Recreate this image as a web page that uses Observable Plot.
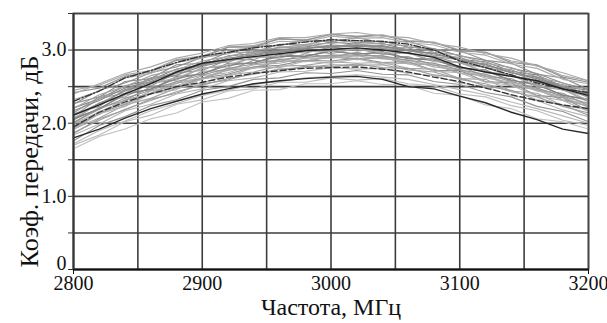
<!DOCTYPE html>
<html>
<head>
<meta charset="utf-8">
<script src="https://cdn.jsdelivr.net/npm/d3@7"></script>
<script src="https://cdn.jsdelivr.net/npm/@observablehq/plot@0.6"></script>
<style>
  html, body { margin: 0; padding: 0; background: #fff; }
</style>
</head>
<body>
<div id="chart"></div>
<script>
const freq = [2800,2820,2840,2860,2880,2900,2920,2940,2960,2980,3000,3020,3040,3060,3080,3100,3120,3140,3160,3180,3200];

const xGridTicks = [2800,2850,2900,2950,3000,3050,3100,3150,3200];
const xLabelTicks = [2800,2900,3000,3100,3200];
const yTicks = [0,0.5,1.0,1.5,2.0,2.5,3.0,3.5];
const yTickLabels = ["0","","1.0","","2.0","","3.0",""];
const xTitle = "Частота, МГц";
const yTitle = "Коэф. передачи, дБ";

// gray measurement curves
const g1  = [2.45,2.52,2.66,2.72,2.87,2.92,3.04,3.06,3.15,3.14,3.21,3.19,3.21,3.13,3.11,3.00,2.97,2.85,2.80,2.65,2.58];
const g2  = [2.26,2.45,2.55,2.69,2.77,2.90,2.95,3.05,3.06,3.14,3.11,3.17,3.10,3.12,3.01,2.99,2.86,2.82,2.67,2.62,2.46];
const g3  = [2.21,2.33,2.51,2.59,2.74,2.80,2.92,2.95,3.04,3.04,3.11,3.08,3.09,3.00,3.00,2.87,2.84,2.71,2.66,2.50,2.45];
const g4  = [2.10,2.34,2.41,2.61,2.65,2.82,2.83,2.96,2.97,3.04,3.03,3.06,3.02,3.00,2.91,2.87,2.76,2.70,2.57,2.51,2.35];
const g5  = [2.13,2.23,2.46,2.51,2.69,2.72,2.87,2.87,2.99,2.96,3.04,2.99,3.02,2.95,2.91,2.82,2.76,2.65,2.57,2.45,2.37];
const g6  = [2.04,2.28,2.36,2.55,2.59,2.76,2.77,2.91,2.89,3.00,2.95,3.02,2.94,2.96,2.84,2.83,2.69,2.66,2.50,2.46,2.29];
const g7  = [2.07,2.19,2.41,2.46,2.64,2.67,2.82,2.82,2.94,2.91,2.99,2.94,2.98,2.88,2.88,2.75,2.73,2.58,2.54,2.38,2.33];
const g8  = [2.01,2.21,2.31,2.50,2.54,2.71,2.72,2.86,2.84,2.95,2.90,2.97,2.89,2.91,2.79,2.78,2.64,2.61,2.45,2.41,2.24];
const g9  = [2.00,2.15,2.32,2.41,2.57,2.61,2.75,2.76,2.87,2.85,2.93,2.88,2.92,2.82,2.82,2.69,2.67,2.52,2.48,2.32,2.27];
const g10 = [1.93,2.14,2.26,2.41,2.49,2.62,2.67,2.77,2.79,2.86,2.85,2.89,2.83,2.84,2.72,2.72,2.57,2.55,2.38,2.35,2.17];
const g11 = [1.92,2.07,2.25,2.34,2.48,2.55,2.66,2.70,2.78,2.79,2.84,2.82,2.83,2.75,2.74,2.61,2.60,2.44,2.41,2.24,2.19];
const g12 = [1.86,2.06,2.18,2.33,2.41,2.54,2.59,2.69,2.71,2.78,2.77,2.81,2.76,2.75,2.66,2.62,2.51,2.45,2.32,2.25,2.11];
const g13 = [1.84,1.99,2.17,2.26,2.40,2.47,2.58,2.62,2.70,2.71,2.76,2.74,2.75,2.68,2.65,2.55,2.50,2.38,2.31,2.18,2.09];
const g14 = [1.76,1.97,2.09,2.24,2.32,2.45,2.50,2.60,2.62,2.69,2.68,2.72,2.67,2.66,2.57,2.53,2.42,2.36,2.23,2.16,2.02];
const g15 = [1.70,1.84,2.02,2.11,2.26,2.32,2.44,2.47,2.56,2.56,2.62,2.59,2.61,2.54,2.51,2.40,2.36,2.24,2.17,2.04,1.97];
const g16 = [1.65,1.82,1.92,2.06,2.14,2.29,2.34,2.45,2.46,2.54,2.54,2.58,2.53,2.52,2.41,2.38,2.25,2.20,2.06,2.02,1.92];
const g17 = [2.27,2.36,2.57,2.61,2.80,2.82,2.97,2.97,3.08,3.07,3.15,3.10,3.12,3.04,3.02,2.92,2.86,2.75,2.68,2.55,2.46];
const g18 = [2.32,2.44,2.62,2.68,2.83,2.89,3.00,3.03,3.12,3.11,3.19,3.16,3.17,3.10,3.07,2.97,2.93,2.81,2.75,2.60,2.54];
const g19 = [2.14,2.36,2.45,2.62,2.68,2.83,2.86,2.98,2.98,3.07,3.04,3.09,3.03,3.03,2.93,2.90,2.78,2.73,2.59,2.53,2.38];
const g20 = [2.05,2.20,2.39,2.47,2.61,2.68,2.79,2.83,2.91,2.92,2.98,2.95,2.96,2.89,2.86,2.76,2.71,2.59,2.52,2.39,2.31];
const g21 = [2.07,2.27,2.39,2.54,2.62,2.75,2.80,2.90,2.92,2.99,2.98,3.02,2.96,2.97,2.85,2.84,2.70,2.67,2.51,2.47,2.31];
const g22 = [1.99,2.12,2.31,2.40,2.55,2.60,2.73,2.75,2.85,2.84,2.91,2.87,2.90,2.81,2.80,2.68,2.65,2.51,2.46,2.31,2.24];
const g23 = [2.42,2.48,2.64,2.70,2.86,2.90,3.04,3.04,3.16,3.13,3.22,3.18,3.20,3.12,3.10,2.99,2.97,2.83,2.79,2.63,2.56];
const g24 = [1.91,2.13,2.23,2.40,2.46,2.61,2.64,2.76,2.76,2.85,2.82,2.88,2.81,2.82,2.71,2.69,2.56,2.52,2.37,2.31,2.16];
const h1  = [2.20,2.39,2.50,2.65,2.73,2.85,2.91,3.00,3.03,3.08,3.09,3.13,3.08,3.06,2.97,2.93,2.82,2.76,2.63,2.55,2.42];
const h2  = [2.11,2.27,2.44,2.56,2.66,2.78,2.85,2.93,2.97,3.02,3.05,3.06,3.05,2.99,2.95,2.86,2.80,2.69,2.61,2.48,2.40];
const h3  = [1.96,2.16,2.27,2.44,2.51,2.65,2.69,2.80,2.82,2.89,2.89,2.92,2.88,2.86,2.77,2.73,2.62,2.56,2.44,2.36,2.22];
const h4  = [2.40,2.54,2.68,2.77,2.89,2.96,3.06,3.09,3.17,3.17,3.22,3.24,3.19,3.17,3.09,3.04,2.95,2.89,2.78,2.69,2.58];
const h5  = [1.87,2.04,2.19,2.31,2.43,2.52,2.61,2.67,2.74,2.76,2.80,2.79,2.80,2.73,2.70,2.60,2.54,2.43,2.36,2.23,2.14];
const h6  = [2.17,2.31,2.48,2.57,2.71,2.79,2.89,2.93,3.01,3.02,3.07,3.05,3.06,2.99,2.96,2.86,2.81,2.69,2.63,2.49,2.41];
const h7  = [1.72,1.90,2.03,2.17,2.27,2.38,2.45,2.53,2.57,2.62,2.64,2.66,2.63,2.60,2.53,2.46,2.39,2.29,2.20,2.10,2.00];
const h8  = [2.01,2.19,2.34,2.45,2.57,2.66,2.75,2.81,2.87,2.90,2.93,2.93,2.92,2.86,2.82,2.73,2.67,2.57,2.48,2.37,2.27];

// highlighted dark curves
const dLow     = [1.80,1.92,2.07,2.20,2.30,2.40,2.47,2.54,2.58,2.61,2.63,2.64,2.60,2.50,2.47,2.37,2.28,2.15,2.05,1.92,1.86];
const dMid     = [2.11,2.25,2.40,2.54,2.70,2.82,2.87,2.91,2.95,2.99,3.01,3.03,3.00,2.96,2.90,2.77,2.70,2.64,2.58,2.47,2.38];
const dDashDot = [2.30,2.44,2.62,2.72,2.83,2.92,2.97,3.03,3.07,3.11,3.14,3.13,3.12,3.08,3.00,2.85,2.76,2.66,2.55,2.47,2.42];
const dDash    = [1.95,2.15,2.29,2.40,2.50,2.56,2.63,2.68,2.72,2.75,2.76,2.77,2.74,2.70,2.63,2.57,2.48,2.39,2.31,2.25,2.20];

const graySeries = [
  ["g1", g1, "#a6a6a6"], ["g2", g2, "#949494"], ["g3", g3, "#828282"], ["g4", g4, "#9e9e9e"],
  ["g5", g5, "#8f8f8f"], ["g6", g6, "#a4a4a4"], ["g7", g7, "#848484"], ["g8", g8, "#9a9a9a"],
  ["g9", g9, "#aeaeae"], ["g10", g10, "#909090"], ["g11", g11, "#a6a6a6"], ["g12", g12, "#9c9c9c"],
  ["g13", g13, "#b4b4b4"], ["g14", g14, "#949494"], ["g15", g15, "#bcbcbc"], ["g16", g16, "#c2c2c2"],
  ["g17", g17, "#8c8c8c"], ["g18", g18, "#acacac"], ["g19", g19, "#989898"], ["g20", g20, "#808080"],
  ["g21", g21, "#aaaaaa"], ["g22", g22, "#a0a0a0"], ["g23", g23, "#929292"], ["g24", g24, "#b0b0b0"],
  ["h1", h1, "#a2a2a2"], ["h2", h2, "#8a8a8a"], ["h3", h3, "#acacac"], ["h4", h4, "#aaaaaa"],
  ["h5", h5, "#9e9e9e"], ["h6", h6, "#888888"], ["h7", h7, "#bababa"], ["h8", h8, "#969696"]
];

const grayRows = graySeries.flatMap(([name, vals, color]) =>
  vals.map((v, i) => ({name, f: freq[i], v, color})));
const toRows = (vals) => vals.map((v, i) => ({f: freq[i], v}));

const serif = "'Liberation Serif', 'Times New Roman', serif";

const chart = Plot.plot({
  width: 607,
  height: 323,
  marginTop: 13,
  marginBottom: 54,
  marginLeft: 73,
  marginRight: 19,
  x: {domain: [2800, 3200]},
  y: {domain: [0, 3.5]},
  style: {fontFamily: serif, fontSize: "20px", color: "#111", background: "#fff", overflow: "visible"},
  marks: [
    Plot.gridX(xGridTicks, {stroke: "#3c3c3c", strokeOpacity: 1, strokeWidth: 1.6}),
    Plot.gridY(yTicks, {stroke: "#3c3c3c", strokeOpacity: 1, strokeWidth: 1.6}),
    Plot.line(grayRows, {x: "f", y: "v", z: "name", stroke: "color", strokeWidth: 1.15, curve: "linear"}),
    Plot.line(toRows(dDash), {x: "f", y: "v", stroke: "#333", strokeWidth: 1.3, strokeDasharray: "6,3"}),
    Plot.line(toRows(dDashDot), {x: "f", y: "v", stroke: "#333", strokeWidth: 1.3, strokeDasharray: "7,2,1.5,2"}),
    Plot.line(toRows(dMid), {x: "f", y: "v", stroke: "#222", strokeWidth: 1.4}),
    Plot.line(toRows(dLow), {x: "f", y: "v", stroke: "#2a2a2a", strokeWidth: 1.4}),
    Plot.frame({stroke: "#444", strokeWidth: 1.6}),
    Plot.ruleY([0], {stroke: "#111", strokeWidth: 2.2}),
    Plot.ruleX([2800], {stroke: "#333", strokeWidth: 1.8}),
    Plot.axisY(yTicks, {tickSize: 5, tickPadding: 2, tickFormat: (d, i) => (i === 0 ? "" : yTickLabels[i]), label: null, fontSize: 20, stroke: "#333"}),
    Plot.axisY([0], {tickSize: 0, tickPadding: 7, dy: -6, tickFormat: () => yTickLabels[0], label: null, fontSize: 20}),
    Plot.axisX([2800, 3200], {tickSize: 5, tickFormat: () => "", label: null}),
    Plot.axisX(xLabelTicks, {tickSize: 0, tickPadding: 6, label: null, fontSize: 20, tickFormat: d => String(d)}),
    Plot.text([xTitle], {text: d => d, frameAnchor: "bottom", dy: 45, fontSize: 24, fill: "#111"}),
    Plot.text([yTitle], {text: d => d, frameAnchor: "left", textAnchor: "middle", rotate: -90, dx: -44, dy: 20, fontSize: 26, fill: "#111"})
  ]
});
document.getElementById("chart").appendChild(chart);
</script>
</body>
</html>
